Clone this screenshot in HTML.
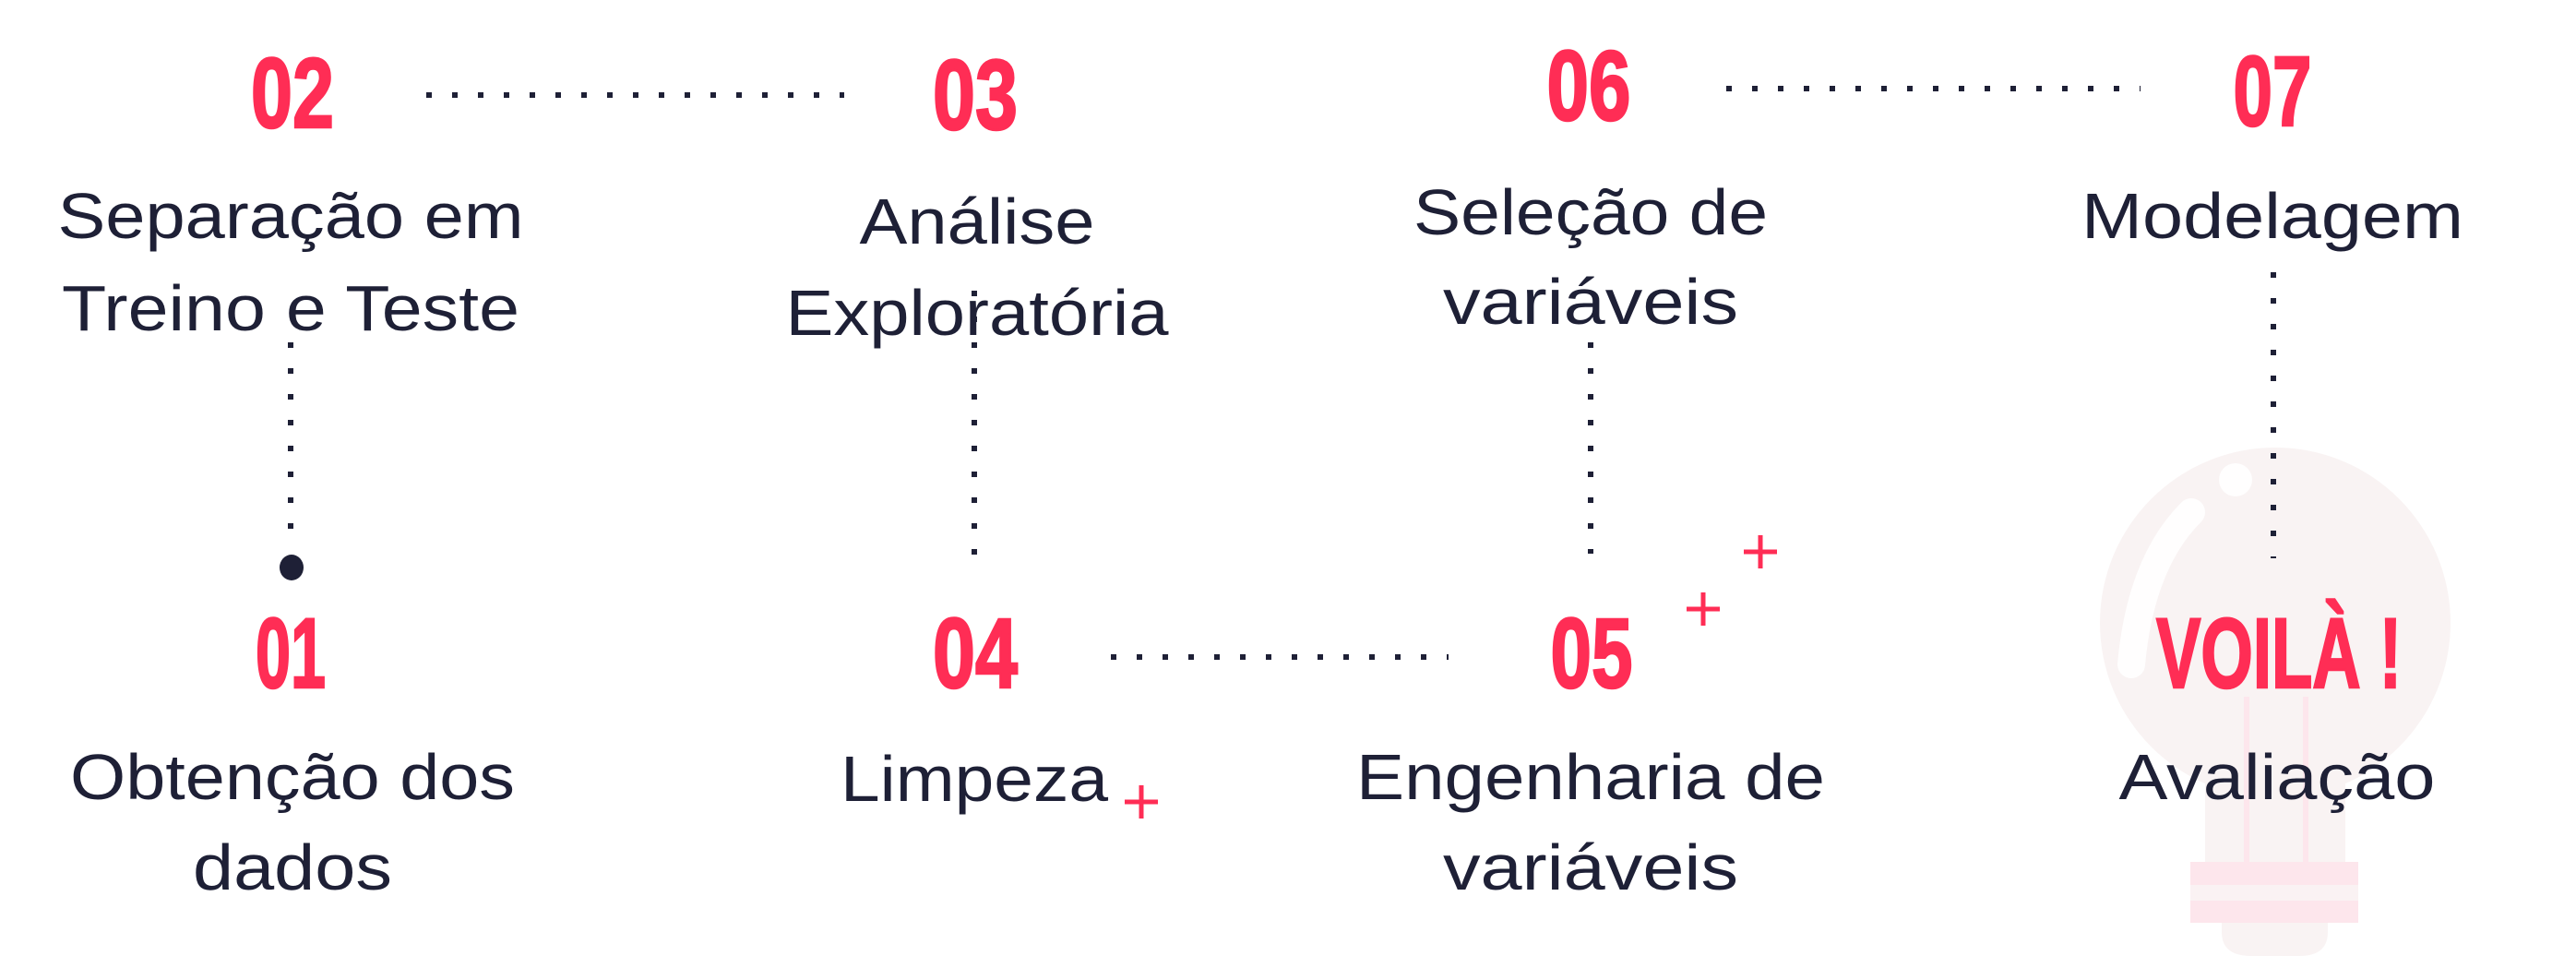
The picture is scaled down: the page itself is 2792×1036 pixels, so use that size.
<!DOCTYPE html>
<html><head><meta charset="utf-8"><style>
html,body{margin:0;padding:0;background:#fff;}
body{width:2792px;height:1036px;overflow:hidden;position:relative;}
svg{position:absolute;left:0;top:0;}
.n{font-family:"Liberation Sans Narrow","Liberation Sans",sans-serif;font-weight:bold;fill:#ff2d55;stroke:#ff2d55;stroke-width:2.5;}
.t{font-family:"Liberation Sans",sans-serif;font-size:70px;fill:#1e2036;text-anchor:middle;}
</style></head><body>
<svg width="2792" height="1036" viewBox="0 0 2792 1036">
<g>
<circle cx="2466" cy="675" r="190" fill="#f9f3f3"/>
<path d="M2390 770 L2390 1000 L2542 1000 L2542 770 Z" fill="#f9f3f3"/>
<path d="M2408 1000 L2408 1010 Q2408 1036 2440 1036 L2492 1036 Q2523 1036 2523 1010 L2523 1000 Z" fill="#f9f3f3"/>
<rect x="2374" y="934" width="182" height="66" fill="#fde6ec"/>
<rect x="2374" y="959" width="182" height="17" fill="#faf2f3"/>
<line x1="2435" y1="755" x2="2435" y2="934" stroke="#fde6ec" stroke-width="6"/>
<line x1="2499" y1="755" x2="2499" y2="934" stroke="#fde6ec" stroke-width="6"/>
<path d="M2375 555 Q2320 610 2310 720" stroke="#fff" stroke-width="30" fill="none" stroke-linecap="round" opacity="0.9"/>
<circle cx="2423" cy="520" r="18" fill="#fff" opacity="0.9"/>
</g>
<g stroke="#1e2036" stroke-width="6" stroke-dasharray="6 22" fill="none">
<line x1="462" y1="103" x2="915" y2="103"/>
<line x1="1871" y1="96" x2="2320" y2="96"/>
<line x1="1204" y1="712" x2="1570" y2="712"/>
<line x1="315" y1="371" x2="315" y2="595"/>
<line x1="1056" y1="315" x2="1056" y2="618"/>
<line x1="1724" y1="371" x2="1724" y2="600"/>
<line x1="2464" y1="295" x2="2464" y2="605"/>
</g>
<ellipse cx="316" cy="615" rx="13" ry="14" fill="#1e2036"/>
<g stroke="#ff2d55" stroke-width="5">
<line x1="1219" y1="869" x2="1255" y2="869"/><line x1="1237" y1="851" x2="1237" y2="887"/>
<line x1="1890" y1="598" x2="1926" y2="598"/><line x1="1908" y1="580" x2="1908" y2="616"/>
<line x1="1828" y1="660" x2="1864" y2="660"/><line x1="1846" y1="642" x2="1846" y2="678"/>
</g>
<g class="n" font-size="108" text-anchor="middle">
<text x="317" y="138" textLength="90" lengthAdjust="spacingAndGlyphs">02</text>
<text x="1057" y="140" textLength="92" lengthAdjust="spacingAndGlyphs">03</text>
<text x="315" y="745" textLength="76" lengthAdjust="spacingAndGlyphs">01</text>
<text x="1057" y="745" textLength="92" lengthAdjust="spacingAndGlyphs">04</text>
<text x="1722" y="130" textLength="91" lengthAdjust="spacingAndGlyphs">06</text>
<text x="2463" y="136" textLength="85" lengthAdjust="spacingAndGlyphs">07</text>
<text x="1725" y="745" textLength="89" lengthAdjust="spacingAndGlyphs">05</text>
<text x="2470" y="745" textLength="266" lengthAdjust="spacingAndGlyphs">VOILÀ !</text>
</g>
<text class="t" x="315" y="258" textLength="505" lengthAdjust="spacingAndGlyphs">Separação em</text>
<text class="t" x="315" y="358" textLength="496" lengthAdjust="spacingAndGlyphs">Treino e Teste</text>
<text class="t" x="1059" y="264" textLength="255" lengthAdjust="spacingAndGlyphs">Análise</text>
<text class="t" x="1059" y="363" textLength="415" lengthAdjust="spacingAndGlyphs">Exploratória</text>
<text class="t" x="317" y="866" textLength="482" lengthAdjust="spacingAndGlyphs">Obtenção dos</text>
<text class="t" x="317" y="964" textLength="216" lengthAdjust="spacingAndGlyphs">dados</text>
<text class="t" x="1056" y="868" textLength="290" lengthAdjust="spacingAndGlyphs">Limpeza</text>
<text class="t" x="1724" y="254" textLength="384" lengthAdjust="spacingAndGlyphs">Seleção de</text>
<text class="t" x="1724" y="351" textLength="320" lengthAdjust="spacingAndGlyphs">variáveis</text>
<text class="t" x="2463" y="258" textLength="414" lengthAdjust="spacingAndGlyphs">Modelagem</text>
<text class="t" x="1724" y="866" textLength="508" lengthAdjust="spacingAndGlyphs">Engenharia de</text>
<text class="t" x="1724" y="964" textLength="320" lengthAdjust="spacingAndGlyphs">variáveis</text>
<text class="t" x="2468" y="866" textLength="343" lengthAdjust="spacingAndGlyphs">Avaliação</text>
</svg>
</body></html>
